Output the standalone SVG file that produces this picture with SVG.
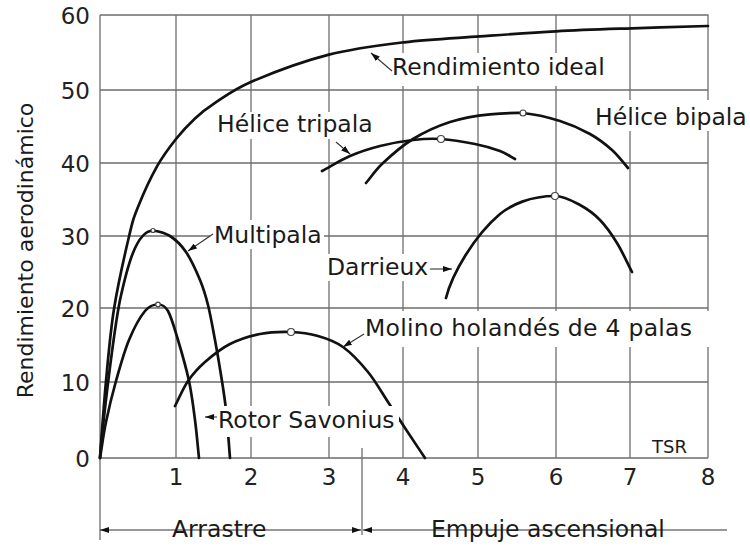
<svg xmlns="http://www.w3.org/2000/svg" width="750" height="546" viewBox="0 0 750 546">
<defs>
<marker id="ah" viewBox="0 0 9 6" refX="9" refY="3" markerWidth="9" markerHeight="6" markerUnits="userSpaceOnUse" orient="auto-start-reverse"><path d="M0,0 L9,3 L0,6 z" fill="#111"/></marker>
<style>
.grid{stroke:#6e6e6e;stroke-width:1.3;fill:none}
.curve{stroke:#111;stroke-width:2.7;fill:none;stroke-linecap:round;stroke-linejoin:round}
.lead{stroke:#333;stroke-width:1.1;fill:none}
.bg{fill:#fff}
.lbl{font-family:"DejaVu Sans",sans-serif;font-size:23.5px;fill:#1a1a1a}
.tick{font-family:"DejaVu Sans",sans-serif;font-size:23px;fill:#222}
.pk{fill:#fff;stroke:#444;stroke-width:1.2}
</style>
</defs>
<rect width="750" height="546" fill="#fff"/>
<g id="grid" class="grid">
<path d="M100,15 H708 V458 M100,90 H708 M100,163 H708 M100,236 H708 M100,308 H708 M100,382 H708 M100,458 H708 M176,15 V458 M251,15 V458 M329,15 V458 M403,15 V458 M478,15 V458 M556,15 V458 M630,15 V458 M100,15 V540 M362,448 V535"/>
</g>
<g id="curves" class="curve">
<path id="ideal" d="M100,458 C101,445.2 103.67,406.03 106,381.2 C108.33,356.37 110.17,333.12 114,309 C117.83,284.88 125,253.5 129,236.5 C133,219.5 133.33,218.68 138,207 C142.67,195.32 150.67,177.73 157,166.4 C163.33,155.07 169.67,147 176,139 C182.33,131 188.67,124.3 195,118.4 C201.33,112.5 204.5,109.75 214,103.6 C223.5,97.45 233,89.62 252,81.5 C271,73.38 302.67,61.43 328,54.9 C353.33,48.37 378.67,45.38 404,42.3 C429.33,39.22 454.67,38.23 480,36.4 C505.33,34.57 530.67,32.65 556,31.3 C581.33,29.95 606.67,29.18 632,28.3 C657.33,27.42 695.33,26.38 708,26"/>
<path id="multipala" d="M100,458 C103,420 114,330 120,300 C127,268 136,231 153,230.5 C158.67,231.42 164.5,232.42 170,236 C175.5,239.58 181,244.67 186,252 C191,259.33 196.33,271.17 200,280 C203.67,288.83 205.5,295 208,305 C210.5,315 212.83,328.33 215,340 C217.17,351.67 219.17,363.33 221,375 C222.83,386.67 224.5,396.17 226,410 C227.5,423.83 229.17,448 230,458"/>
<path id="savonius" d="M100,458 C102,446 103.33,434.83 106,422 C108.67,409.17 112.17,394.67 116,381 C119.83,367.33 124.17,351.67 129,340 C133.83,328.33 140.17,316.83 145,311 C149.83,305.17 153.5,304.5 158,304.5 C162,304.5 164.67,305.5 168,311 C171.33,316.83 174.5,328.33 178,340 C181.5,351.67 186.17,367.67 189,381 C191.83,394.33 193.33,407.17 195,420 C196.67,432.83 197.67,445.33 199,458"/>
<path id="molino" d="M175,406 C179.33,397.67 183,388.33 188,381 C193,373.67 198,368.17 205,362 C212,355.83 220.83,348.67 230,344 C239.17,339.33 249.83,336 260,334 C270.17,332 281.33,331.67 291,332 C300.67,332.33 309.33,333.5 318,336 C326.67,338.5 334.67,341 343,347 C351.33,353 360.5,362.83 368,372 C375.5,381.17 381.83,392.67 388,402 C394.17,411.33 398.83,418.67 405,428 C411.17,437.33 418.33,448 425,458"/>
<path id="tripala" d="M322,171 C331.33,166 340.33,160.17 350,156 C359.67,151.83 369.5,148.67 380,146 C390.5,143.33 402.83,141.17 413,140 C423.17,138.83 430.67,138.33 441,139 C451.33,139.67 465.17,142 475,144 C484.83,146 493.33,148.5 500,151 C506.67,153.5 510,156.33 515,159"/>
<path id="bipala" d="M366,183 C371.67,176.33 375.17,170.33 383,163 C390.83,155.67 401.83,145.83 413,139 C424.17,132.17 437.17,126.17 450,122 C462.83,117.83 477.83,115.5 490,114.3 C502.17,113.1 511.33,112.8 523,113 C534.67,114.17 548.83,117.5 560,121 C571.17,124.5 581.33,129.17 590,134 C598.67,138.83 605.67,144.33 612,150 C618.33,155.67 622.67,162 628,168"/>
<path id="darrieux" d="M446,298 C452,274 474,236 500,214 C511,205 530,196 555,196 C564,196 572.5,201 580,205 C587.5,209 593.83,213.67 600,220 C606.17,226.33 611.67,234.33 617,243 C622.33,251.67 627,262.33 632,272"/>
</g>
<g id="label-bg" class="bg">
<rect x="388" y="53" width="223" height="33"/>
<rect x="213" y="112" width="164" height="27"/>
<rect x="592" y="100" width="158" height="31"/>
<rect x="210" y="220" width="114" height="29"/>
<rect x="323" y="254" width="107" height="27"/>
<rect x="361" y="311" width="351" height="36"/>
<rect x="217" y="406" width="182" height="31"/>
<rect x="168" y="518" width="104" height="24"/>
<rect x="427" y="518" width="244" height="24"/>
</g>
<g id="peaks" class="pk">
<circle cx="153" cy="230.5" r="2"/>
<circle cx="158" cy="304.5" r="2.3"/>
<circle cx="291" cy="332" r="3.5"/>
<circle cx="441" cy="139" r="3.5"/>
<circle cx="523" cy="113" r="3"/>
<circle cx="555" cy="196" r="3.5"/>
</g>
<g id="connectors" class="lead">
<line x1="392" y1="71" x2="371" y2="53" marker-end="url(#ah)"/>
<line x1="336" y1="142" x2="350" y2="154" marker-end="url(#ah)"/>
<line x1="213" y1="234" x2="188" y2="251" marker-end="url(#ah)"/>
<line x1="364" y1="334" x2="343" y2="347" marker-end="url(#ah)"/>
<line x1="217" y1="417" x2="205" y2="417" marker-end="url(#ah)"/>
<line x1="430" y1="269" x2="452" y2="269" marker-end="url(#ah)"/>
<line x1="100" y1="530" x2="361" y2="530" marker-start="url(#ah)" marker-end="url(#ah)"/>
<line x1="363" y1="530" x2="727" y2="530" marker-start="url(#ah)"/>
</g>
<g id="y-ticks" class="tick" text-anchor="end">
<text x="90" y="23.5">60</text>
<text x="90" y="98.5">50</text>
<text x="90" y="171.5">40</text>
<text x="90" y="244.5">30</text>
<text x="90" y="316.5">20</text>
<text x="90" y="390.5">10</text>
<text x="90" y="466.5">0</text>
</g>
<g id="x-ticks" class="tick" text-anchor="middle">
<text x="176" y="485">1</text>
<text x="251" y="485">2</text>
<text x="329" y="485">3</text>
<text x="403" y="485">4</text>
<text x="478" y="485">5</text>
<text x="556" y="485">6</text>
<text x="630" y="485">7</text>
<text x="708" y="485">8</text>
</g>
<text class="lbl" transform="translate(33,250.5) rotate(-90)" text-anchor="middle" style="font-size:22px">Rendimiento aerodinámico</text>
<g id="labels" class="lbl">
<text x="392" y="75">Rendimiento ideal</text>
<text x="217" y="132">Hélice tripala</text>
<text x="595" y="125">Hélice bipala</text>
<text x="214" y="243">Multipala</text>
<text x="327" y="275">Darrieux</text>
<text x="365" y="336" textLength="327">Molino holandés de 4 palas</text>
<text x="218" y="428">Rotor Savonius</text>
<text x="652" y="453" style="font-size:18px">TSR</text>
<text x="172" y="537">Arrastre</text>
<text x="431" y="537">Empuje ascensional</text>
</g>
</svg>
